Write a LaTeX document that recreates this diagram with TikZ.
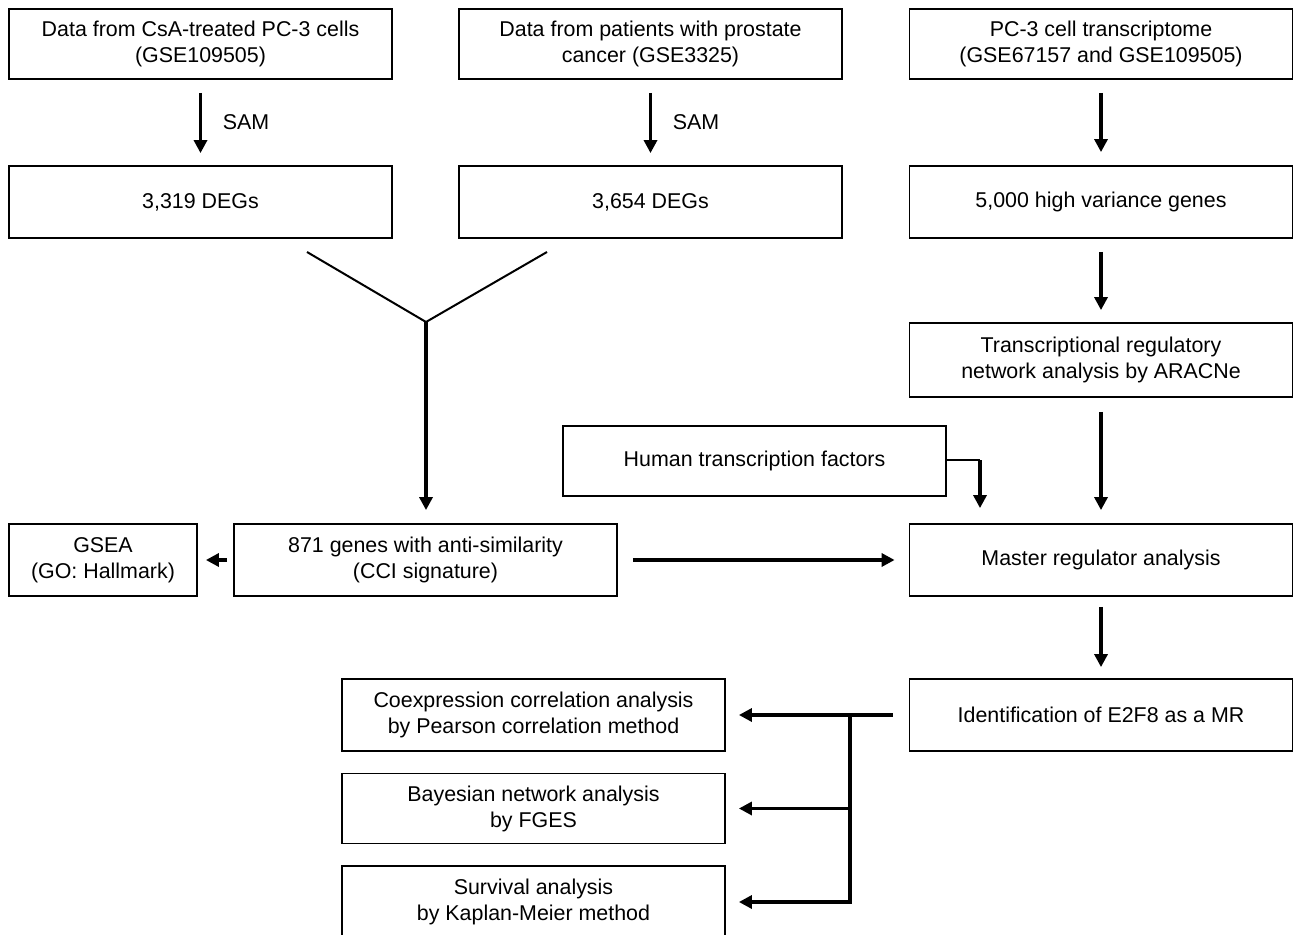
\documentclass[tikz,border=0pt]{standalone}
\usepackage{fontspec}
\setmainfont{Liberation Sans}
\usepackage{tikz}
\usetikzlibrary{calc,arrows.meta}
\tikzset{
  box/.style={draw=black, line width=0.9pt, minimum width=191.5pt, minimum height=35pt,
    align=center, font=\fontsize{10.7}{13}\selectfont, inner sep=0pt},
  flow/.style={-{Triangle[length=6.5pt,width=6.5pt]}, draw=black, line width=1.6pt},
  link/.style={draw=black, line width=1pt},
  lab/.style={font=\fontsize{10.7}{13}\selectfont}
}

\begin{document}
\begin{tikzpicture}[x=0.5pt,y=-0.5pt]
  \useasboundingbox (0,0) rectangle (1295,935);

  % top row: data sources
  \node[box] (CsA) at (200.5,44) {Data from CsA-treated PC-3 cells\\(GSE109505)};
  \node[box] (PCa) at (650.5,44) {Data from patients with prostate\\cancer (GSE3325)};
  \node[box] (PC3) at (1101,44) {PC-3 cell transcriptome\\(GSE67157 and GSE109505)};

  % second row
  \node[box, minimum height=36pt] (DEG1) at (200.5,202) {3,319 DEGs};
  \node[box, minimum height=36pt] (DEG2) at (650.5,202) {3,654 DEGs};
  \node[box, minimum height=36pt] (HVG) at (1101,202) {5,000 high variance genes};

  \node[box, minimum height=37pt] (ARA) at (1101,360) {Transcriptional regulatory\\network analysis by ARACNe};
  \node[box] (HTF) at (754.5,461) {Human transcription factors};

  % middle row
  \node[box, minimum width=94pt, minimum height=36pt] (GSEA) at (103,560) {GSEA\\(GO: Hallmark)};
  \node[box, minimum height=36pt] (CCI) at (425.5,560) {871 genes with anti-similarity\\(CCI signature)};
  \node[box, minimum height=36pt] (MRA) at (1101,560) {Master regulator analysis};

  % bottom
  \node[box, minimum height=36pt] (E2F8) at (1101,715) {Identification of E2F8 as a MR};
  \node[box, minimum height=36pt] (COEX) at (533.5,715) {Coexpression correlation analysis\\by Pearson correlation method};
  \node[box] (BN) at (533.5,808.5) {Bayesian network analysis\\by FGES};
  \node[box, minimum height=36pt] (SURV) at (533.5,902) {Survival analysis\\by Kaplan-Meier method};

  % SAM steps
  \draw[flow, shorten <=6.5pt, shorten >=6pt] (CsA) -- (DEG1) node[midway, lab, right=7pt] {SAM};
  \draw[flow, shorten <=6.5pt, shorten >=6pt] (PCa) -- (DEG2) node[midway, lab, right=7pt] {SAM};
  \draw[flow, shorten <=6.5pt, shorten >=6.5pt] (PC3) -- (HVG);
  \draw[flow, shorten <=6.5pt, shorten >=6pt] (HVG) -- (ARA);
  \draw[flow, shorten <=7pt, shorten >=6.5pt] (ARA) -- (MRA);

  % merge of the two DEG lists
  \coordinate (Y1) at (307,252);
  \coordinate (Y2) at (547,252);
  \coordinate (J) at (426,322);
  \draw[link] (Y1) -- (J) -- (Y2);
  \draw[flow, shorten >=6.5pt] (J) -- (J |- CCI.north);

  % transcription factors into MRA
  \coordinate (K) at (980,460);
  \draw[link] (HTF.east |- K) -- (K);
  \draw[flow, shorten >=7.5pt] (K) -- (K |- MRA.north);

  \draw[flow, shorten <=3pt, shorten >=4pt] (CCI) -- (GSEA);
  \draw[flow, shorten <=7.5pt, shorten >=7pt] (CCI) -- (MRA);
  \draw[flow, shorten <=5pt, shorten >=5.5pt] (MRA) -- (E2F8);

  % branches from E2F8
  \coordinate (T) at (850,715);
  \draw[flow, shorten <=8pt, shorten >=6.5pt] (E2F8) -- (COEX);
  \draw[flow, shorten >=6.5pt] (T) |- (BN);
  \draw[flow, shorten >=6.5pt] (T) |- (SURV);
\end{tikzpicture}
\end{document}
